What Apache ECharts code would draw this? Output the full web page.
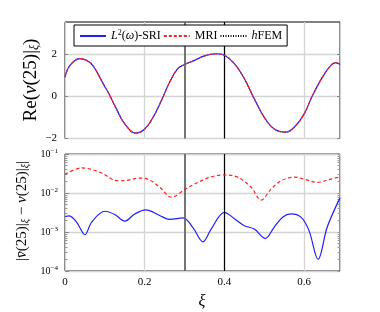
<!DOCTYPE html>
<html><head><meta charset="utf-8">
<script src="https://cdn.jsdelivr.net/npm/echarts@6/dist/echarts.min.js"></script>
<style>html,body{margin:0;padding:0;background:#fff}#c{width:380px;height:312px}</style>
</head><body><div id="c"></div>
<script>
// ---- data ----
const topXi = [0, 0.0125, 0.0375, 0.055, 0.071, 0.096, 0.1125, 0.129, 0.15, 0.1775, 0.2, 0.221, 0.242, 0.2625, 0.283, 0.3, 0.325, 0.35, 0.379, 0.4, 0.425, 0.45, 0.475, 0.5, 0.525, 0.554, 0.575, 0.6, 0.621, 0.646, 0.667, 0.679, 0.69];
const topReSRI = [0.9, 1.45, 1.77, 1.68, 1.42, 0.58, 0.03, -0.6, -1.31, -1.75, -1.55, -1.0, -0.2, 0.66, 1.3, 1.49, 1.69, 1.9, 2.0, 1.93, 1.53, 0.82, -0.13, -1.0, -1.55, -1.7, -1.47, -0.84, 0.03, 0.9, 1.45, 1.58, 1.49];
const topReMRI = topReSRI.slice();
const topReHFEM = topReSRI.slice();

const redXi = [0, 0.042, 0.0875, 0.133, 0.154, 0.1875, 0.208, 0.2375, 0.267, 0.3, 0.325, 0.367, 0.4, 0.433, 0.467, 0.492, 0.517, 0.542, 0.575, 0.608, 0.633, 0.667, 0.69];
const errMRI = [0.030, 0.044, 0.034, 0.0206, 0.021, 0.024, 0.0227, 0.014, 0.0078, 0.0122, 0.017, 0.026, 0.029, 0.0255, 0.014, 0.0066, 0.0126, 0.0206, 0.0255, 0.0214, 0.0187, 0.0227, 0.026];

const blueXi = [0, 0.01, 0.029, 0.05, 0.067, 0.1, 0.125, 0.15, 0.175, 0.2025, 0.2375, 0.2625, 0.296, 0.321, 0.346, 0.367, 0.4, 0.425, 0.45, 0.475, 0.5025, 0.525, 0.546, 0.567, 0.592, 0.612, 0.635, 0.658, 0.69];
const errSRI = [0.0025, 0.0026, 0.0018, 0.00085, 0.0018, 0.0034, 0.0028, 0.0019, 0.0029, 0.0037, 0.00265, 0.0021, 0.0023, 0.0013, 0.00056, 0.0012, 0.0032, 0.0022, 0.00145, 0.00119, 0.00068, 0.00134, 0.0024, 0.0029, 0.0024, 0.0011, 0.0002, 0.00134, 0.0075];

const vLines = [0.3, 0.4];
const xTicks = [0, 0.2, 0.4, 0.6];
const topYTicks = [-2, 0, 2];
const logMajor = [1e-4, 1e-3, 1e-2, 1e-1];

// ---- chart ----
const FONT = 'Liberation Serif';
const zip = (a, b) => a.map((v, i) => [v, b[i]]);
const minorLog = [];
for (let e = -4; e < -1; e++) for (let k = 2; k <= 9; k++) minorLog.push(+(k * Math.pow(10, e)).toPrecision(3));

const markLines = {
  silent: true, symbol: 'none', label: {show: false},
  data: [
    {xAxis: vLines[0], lineStyle: {color: '#666', width: 1.8, type: 'solid'}},
    {xAxis: vLines[1], lineStyle: {color: '#000', width: 1.2, type: 'solid'}}
  ]
};

const xBase = {
  type: 'value', min: 0, max: 0.69, interval: 0.2,
  axisLine: {show: false},
  axisTick: {show: false},
  splitLine: {show: true, lineStyle: {color: '#d4d4d4', width: 1.3}}
};

const chart = echarts.init(document.getElementById('c'), null, {renderer: 'canvas'});
chart.setOption({
  animation: false,
  backgroundColor: '#fff',
  grid: [
    {left: 65, top: 22, width: 275, height: 116.5, show: true, borderColor: '#000', borderWidth: 1, backgroundColor: 'transparent'},
    {left: 65, top: 154, width: 275, height: 117, show: true, borderColor: '#000', borderWidth: 1, backgroundColor: 'transparent'}
  ],
  xAxis: [
    Object.assign({}, xBase, {gridIndex: 0, axisLabel: {show: false}}),
    Object.assign({}, xBase, {gridIndex: 1,
      axisLabel: {show: true, margin: 6, color: '#000', fontFamily: FONT, fontSize: 11,
        customValues: xTicks, formatter: v => (v === 0 ? '0' : String(+v.toFixed(1)))}})
  ],
  yAxis: [
    {gridIndex: 0, type: 'value', min: -2, max: 3.5, interval: 2, position: 'left',
      axisLine: {show: false},
      axisTick: {show: true, inside: true, length: 3, customValues: topYTicks, lineStyle: {color: '#888'}},
      axisLabel: {margin: 8, color: '#000', fontFamily: FONT, fontSize: 11, customValues: topYTicks,
        formatter: v => (v < 0 ? '\u2212' + Math.abs(v) : String(v))},
      splitLine: {show: true, lineStyle: {color: '#d4d4d4', width: 1.3}}},
    {gridIndex: 0, type: 'value', min: -2, max: 3.5, interval: 2, position: 'right',
      axisLine: {show: false},
      axisTick: {show: true, inside: true, length: 3, customValues: topYTicks, lineStyle: {color: '#888'}},
      axisLabel: {show: false}, splitLine: {show: false}},
    {gridIndex: 1, type: 'log', logBase: 10, min: 1e-4, max: 1e-1, position: 'left',
      axisLine: {show: false},
      axisTick: {show: true, inside: true, length: 4, lineStyle: {color: '#888'}},
      axisLabel: {margin: 7, color: '#000', fontFamily: FONT, fontSize: 10,
        formatter: v => '10{s|\u2212' + Math.round(-Math.log10(v)) + '}',
        rich: {s: {fontSize: 7, fontFamily: FONT, color: '#000', padding: [0, 0, 6, 0]}}},
      splitLine: {show: true, lineStyle: {color: '#d4d4d4', width: 1.3}}},
    {gridIndex: 1, type: 'log', logBase: 10, min: 1e-4, max: 1e-1, position: 'left',
      axisLine: {show: false},
      axisTick: {show: true, inside: true, length: 2.5, customValues: minorLog, lineStyle: {color: '#999'}},
      axisLabel: {show: false}, splitLine: {show: false}},
    {gridIndex: 1, type: 'log', logBase: 10, min: 1e-4, max: 1e-1, position: 'right',
      axisLine: {show: false},
      axisTick: {show: true, inside: true, length: 2.5, customValues: minorLog.concat(logMajor), lineStyle: {color: '#999'}},
      axisLabel: {show: false}, splitLine: {show: false}}
  ],
  legend: {
    data: ['SRI', 'MRI', 'hFEM'],
    left: 74, top: 25, orient: 'horizontal', z: 50,
    backgroundColor: '#fff', borderColor: '#000', borderWidth: 1,
    padding: [4, 5, 4, 5], itemGap: 2, itemWidth: 26, itemHeight: 10,
    itemStyle: {opacity: 0, borderWidth: 0},
    textStyle: {fontFamily: FONT, fontSize: 12, color: '#000',
      rich: {i: {fontFamily: FONT, fontSize: 12, fontStyle: 'italic', color: '#000'},
             s: {fontFamily: FONT, fontSize: 8, color: '#000', padding: [0, 0, 6, 0]},
             n: {fontFamily: FONT, fontSize: 12, color: '#000'}}},
    formatter: name => ({
      SRI: '{i|L}{s|2}{n|(}{i|ω}{n|)-SRI}',
      MRI: '{n|MRI}',
      hFEM: '{i|h}{n|FEM}'
    })[name]
  },
  graphic: [
    {type: 'text', x: 31, y: 80, rotation: Math.PI / 2, z: 100,
      style: {text: '{n|Re(}{i|v}{n|(25)|}{sub|ξ}{n|)}', align: 'center', verticalAlign: 'middle',
        rich: {n: {fontFamily: FONT, fontSize: 19, fill: '#000'},
               i: {fontFamily: FONT, fontSize: 19, fontStyle: 'italic', fill: '#000'},
               sub: {fontFamily: FONT, fontSize: 12, fontStyle: 'italic', fill: '#000', padding: [8, 0, 0, 0]}}}},
    {type: 'text', x: 22, y: 211, rotation: Math.PI / 2, z: 100,
      style: {text: '{n||}{i|v̄}{n|(25)|}{sub|ξ}{n| − }{i|v}{n|(25)|}{sub|ξ}{n||}', align: 'center', verticalAlign: 'middle',
        rich: {n: {fontFamily: FONT, fontSize: 15, fill: '#000'},
               i: {fontFamily: FONT, fontSize: 15, fontStyle: 'italic', fill: '#000'},
               sub: {fontFamily: FONT, fontSize: 10, fontStyle: 'italic', fill: '#000', padding: [6, 0, 0, 0]}}}},
    {type: 'text', x: 202, y: 302, z: 100,
      style: {text: 'ξ', align: 'center', verticalAlign: 'middle',
        font: 'italic 16px "Liberation Serif"', fill: '#000'}}
  ],
  series: [
    {name: 'hFEM', type: 'line', xAxisIndex: 0, yAxisIndex: 0, data: zip(topXi, topReHFEM),
      smooth: 0.4, symbol: 'none', lineStyle: {color: '#000', width: 0.7, type: [1, 1.5]}, itemStyle: {color: '#000'}, z: 3,
      markLine: markLines},
    {name: 'SRI', type: 'line', xAxisIndex: 0, yAxisIndex: 0, data: zip(topXi, topReSRI),
      smooth: 0.4, symbol: 'none', lineStyle: {color: '#1f1fff', width: 1.2}, itemStyle: {color: '#1f1fff'}, z: 4},
    {name: 'MRI', type: 'line', xAxisIndex: 0, yAxisIndex: 0, data: zip(topXi, topReMRI),
      smooth: 0.4, symbol: 'none', lineStyle: {color: '#ff2020', width: 1.2, type: [3, 2]}, itemStyle: {color: '#ff2020'}, z: 5},
    {name: 'SRI', type: 'line', xAxisIndex: 1, yAxisIndex: 2, data: zip(blueXi, errSRI),
      smooth: 0.35, symbol: 'none', lineStyle: {color: '#1f1fff', width: 1.2}, itemStyle: {color: '#1f1fff'}, z: 4,
      markLine: markLines},
    {name: 'MRI', type: 'line', xAxisIndex: 1, yAxisIndex: 2, data: zip(redXi, errMRI),
      smooth: 0.35, symbol: 'none', lineStyle: {color: '#ff2020', width: 1.2, type: [3.5, 2.5]}, itemStyle: {color: '#ff2020'}, z: 5}
  ]
});
</script>
</body></html>
